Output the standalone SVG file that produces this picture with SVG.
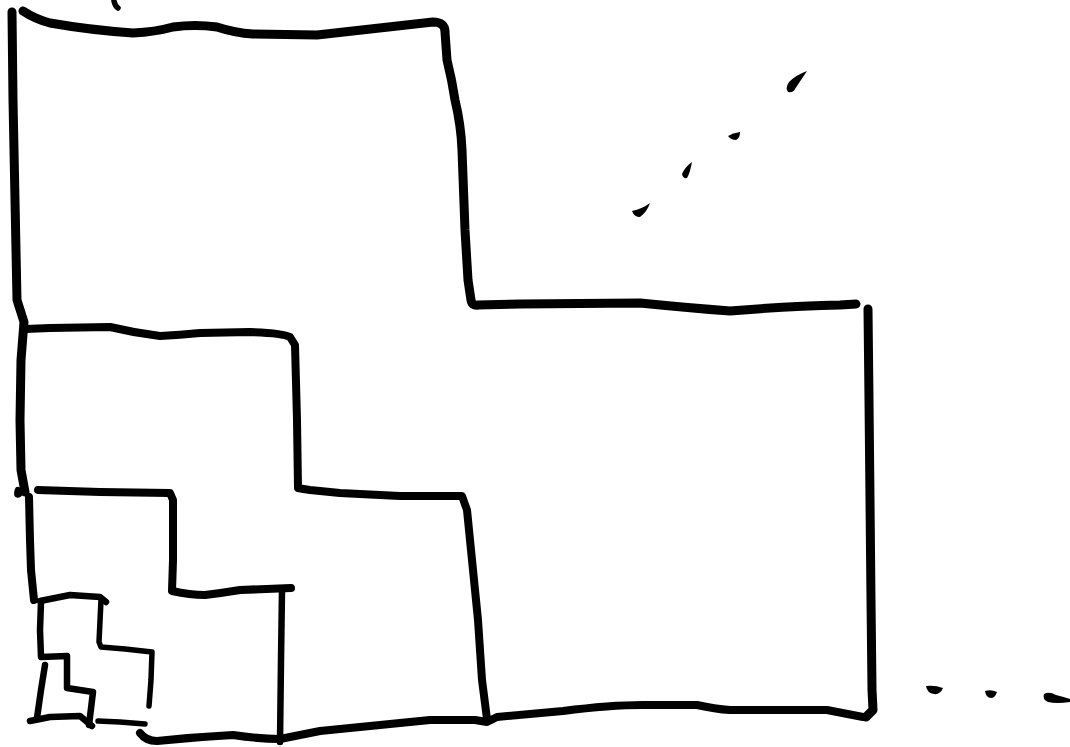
<svg xmlns="http://www.w3.org/2000/svg" width="1070" height="747" viewBox="0 0 1070 747">
<style>
.s{fill:none;stroke:#000;stroke-linecap:round;stroke-linejoin:round}
.w8{stroke-width:9}
.w7{stroke-width:8}
.w6{stroke-width:6.5}
.w5{stroke-width:5.5}
.d{fill:#000;stroke:none}
</style>
<rect width="1070" height="747" fill="#fff"/>
<g id="sketch">
<polyline class="s w8" points="12,12 13,100 15,200 17,300 24,322 21,360 20,420 21,470 25,492"/>
<polyline class="s w7" points="29,497 30,540 31,570 34,600"/>
<path class="s w6" d="M18,490 q-2,6 1,4"/>
<path class="s w8" d="M23,11 Q35,19 50,23 Q90,30 133,33 Q155,32 173,27 Q195,24 217,27 Q235,33 253,34 L317,35 Q380,28 433,22 Q445,22 445,32 L447,60 Q452,80 455,100 Q461,125 462,150 L465,230 L468,280 L471,300 Q472,306 478,305 L520,304 L640,303 Q690,308 730,311 Q790,306 840,305 L856,304"/>
<path class="s w5" d="M114,1 q1,5 4,7"/>
<polyline class="s w8" points="868,309 869,400 870,500 871,600 872,690 873,710 866,717"/>
<path class="s w7" d="M140,733 Q146,741 157,741 Q195,737 233,735 Q260,739 280,739 Q300,735 320,731 L380,725 L430,720 L475,720 L487,722 L497,717 L563,711 Q610,705 643,705 L697,705 Q715,709 730,710 L827,710 L863,717"/>
<path class="s w7" d="M25,329 L50,328 L110,327 Q135,333 160,336 Q180,335 200,333 L250,332 Q283,333 290,337 L295,345 L297,420 L298,488 Q303,489 310,490 L340,493 L400,496 L462,496 L467,510 L472,560 L478,620 L482,680 L487,719"/>
<path class="s w7" d="M38,490 L100,492 L170,493 L173,500 L173,560 L172,591 Q190,595 205,595 Q222,593 240,590 L291,588"/>
<polyline class="s w6" points="282,590 281,660 280,742"/>
<polyline class="s w6" points="40,601 70,595 100,597 106,602"/>
<polyline class="s w5" points="101,600 99,642 101,647 125,649 152,652 151,680 149,706"/>
<polyline class="s w6" points="41,602 40,630 41,657 67,656 67,688 93,692 89,725"/>
<polyline class="s w6" points="45,665 41,690 37,718"/>
<polyline class="s w6" points="30,721 50,717 80,716 92,726"/>
<polyline class="s w5" points="98,721 120,722 145,724"/>
<path class="d" d="M807,71 q-11,4 -18,11 q-4,6 -1,10 q5,1 7,-3 q6,-9 12,-18 z"/>
<path class="d" d="M740,132 q-7,1 -12,4 q3,4 8,4 q4,-2 4,-8 z"/>
<path class="d" d="M692,162 q-7,5 -10,12 q1,5 5,4 q3,-5 5,-16 z"/>
<path class="d" d="M650,203 q-8,6 -18,8 q2,6 8,6 q7,-5 10,-14 z"/>
<path class="d" d="M926,686 q9,-1 17,2 q-3,7 -9,6 q-7,-1 -8,-8 z"/>
<path class="d" d="M985,691 q6,-2 12,1 q-2,6 -6,6 q-5,0 -6,-7 z"/>
<path class="d" d="M1044,694 q5,-3 12,1 q8,2 14,4 l0,3 q-14,2 -22,0 q-6,-3 -4,-8 z"/>
</g>
</svg>
